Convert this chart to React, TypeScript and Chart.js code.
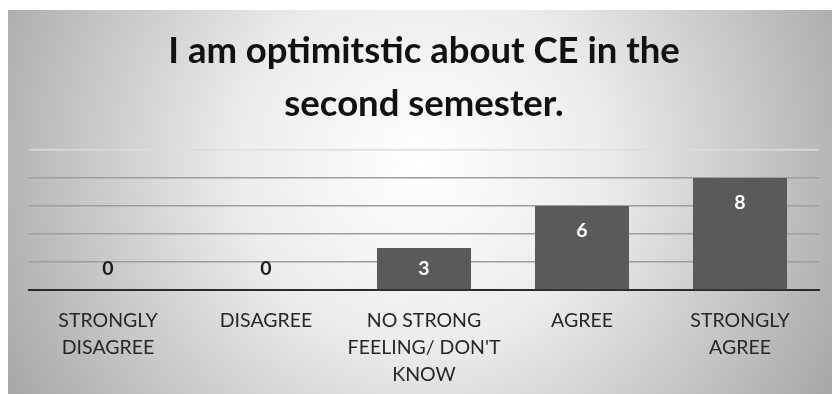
import React, { useEffect, useRef } from "react";
import { Chart, registerables } from "chart.js";

Chart.register(...registerables);

const TITLE_LINES = ["I am optimitstic about CE in the", "second semester."];
const CATEGORIES: string[][] = [
  ["STRONGLY", "DISAGREE"],
  ["DISAGREE"],
  ["NO STRONG", "FEELING/ DON'T", "KNOW"],
  ["AGREE"],
  ["STRONGLY", "AGREE"],
];
const VALUES = [0, 0, 3, 6, 8];
const Y_MIN = 0;
const Y_MAX = 10;
const Y_STEP = 2;

const FONT = "Lato, 'Open Sans', sans-serif";

const bgPlugin = {
  id: "bgGradient",
  beforeDraw(chart: any) {
    const { ctx, width, height } = chart;
    ctx.save();
    const cx = width * 0.5;
    const cy = height * 0.4;
    const g = ctx.createRadialGradient(cx, cy, 0, cx, cy, 520);
    g.addColorStop(0, "#ffffff");
    g.addColorStop(0.35, "#ececec");
    g.addColorStop(0.8, "#b4b4b4");
    g.addColorStop(1, "#9c9c9c");
    ctx.fillStyle = g;
    ctx.fillRect(0, 0, width, height);
    ctx.restore();
  },
};

const labelPlugin = {
  id: "barLabels",
  afterDatasetsDraw(chart: any) {
    const { ctx } = chart;
    const meta = chart.getDatasetMeta(0);
    const data = chart.data.datasets[0].data as number[];
    ctx.save();
    ctx.font = `bold 19.5px ${FONT}`;
    ctx.textAlign = "center";
    ctx.textBaseline = "middle";
    meta.data.forEach((el: any, i: number) => {
      const v = data[i];
      const y = Math.min(el.y + 25, el.base - 21);
      ctx.fillStyle = v > 0 ? "#ffffff" : "#1a1a1a";
      ctx.fillText(String(v), el.x, y);
    });
    ctx.restore();
  },
};

export default function App() {
  const ref = useRef<HTMLCanvasElement | null>(null);
  useEffect(() => {
    if (!ref.current) return;
    const chart = new Chart(ref.current, {
      type: "bar",
      data: {
        labels: CATEGORIES,
        datasets: [
          {
            data: VALUES,
            backgroundColor: "#5a5a5a",
            categoryPercentage: 1,
            barPercentage: 0.595,
          },
        ],
      },
      options: {
        animation: false,
        responsive: false,
        layout: { padding: { left: 21, right: 13, top: 0, bottom: 0 } },
        plugins: {
          legend: { display: false },
          tooltip: { enabled: false },
          title: {
            display: true,
            text: TITLE_LINES,
            color: "#111111",
            font: { family: FONT, size: 36.5, weight: "bold", lineHeight: 1.45 },
            padding: { top: 15, bottom: 19 },
          },
        },
        scales: {
          x: {
            grid: { display: false },
            border: { display: true, color: "#2a2a2a", width: 2 },
            ticks: {
              color: "#262626",
              font: { family: FONT, size: 19.5, lineHeight: 1.38 },
              padding: 9,
              maxRotation: 0,
              autoSkip: false,
            },
            afterFit: (s: any) => {
              s.height = 104;
            },
          },
          y: {
            min: Y_MIN,
            max: Y_MAX,
            ticks: { display: false, stepSize: Y_STEP },
            border: { display: false },
            grid: {
              color: (c: any) =>
                c.tick && c.tick.value === Y_MAX ? "#dcdcdc" : "#9e9e9e",
              lineWidth: 1.5,
              drawTicks: false,
            },
            afterFit: (s: any) => {
              s.width = 0;
            },
          },
        },
      },
      plugins: [bgPlugin, labelPlugin],
    });
    return () => chart.destroy();
  }, []);
  return (
    <div style={{ position: "fixed", left: 8, top: 10, width: 824, height: 384 }}>
      <canvas ref={ref} width={824} height={384} style={{ display: "block" }} />
    </div>
  );
}
